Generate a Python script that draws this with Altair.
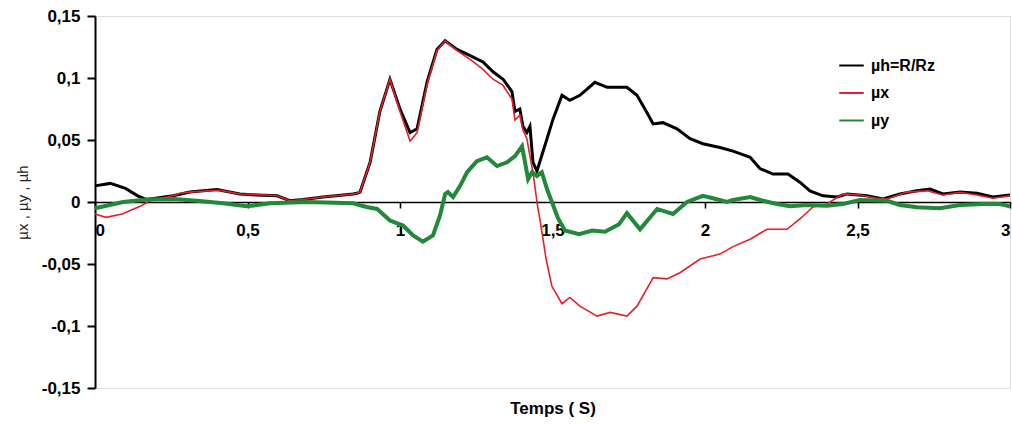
import altair as alt
import pandas as pd

# ---- data ----
mu_h_t = [0.0, 0.05, 0.10, 0.14, 0.17, 0.256, 0.311, 0.40, 0.42, 0.475, 0.53, 0.597, 0.639, 0.682,
          0.748, 0.846, 0.859, 0.869, 0.902, 0.934, 0.967, 1.0, 1.033, 1.056, 1.089, 1.121, 1.148,
          1.187, 1.23, 1.272, 1.305, 1.338, 1.367, 1.377, 1.393, 1.403, 1.416, 1.426, 1.436, 1.449,
          1.482, 1.502, 1.531, 1.557, 1.590, 1.639, 1.679, 1.744, 1.777, 1.810, 1.830, 1.862, 1.908,
          1.951, 1.993, 2.049, 2.092, 2.148, 2.180, 2.223, 2.272, 2.311, 2.344, 2.387, 2.433, 2.466,
          2.531, 2.584, 2.639, 2.695, 2.738, 2.780, 2.836, 2.892, 2.944, 3.0]
mu_h_v = [0.013, 0.015, 0.011, 0.005, 0.002, 0.005, 0.008, 0.010, 0.009, 0.0065, 0.0057, 0.005,
          0.001, 0.002, 0.004, 0.0065, 0.007, 0.008, 0.032, 0.073, 0.099, 0.075, 0.056, 0.059,
          0.097, 0.123, 0.130, 0.123, 0.118, 0.113, 0.105, 0.099, 0.089, 0.073, 0.075, 0.061,
          0.056, 0.061, 0.032, 0.025, 0.051, 0.067, 0.086, 0.082, 0.086, 0.0965, 0.0925, 0.0925,
          0.086, 0.072, 0.063, 0.064, 0.059, 0.051, 0.047, 0.044, 0.041, 0.036, 0.027, 0.0225,
          0.0225, 0.016, 0.009, 0.005, 0.004, 0.0065, 0.005, 0.0025, 0.0065, 0.009, 0.0105,
          0.0065, 0.008, 0.007, 0.004, 0.0056]

mu_x_t = [0.0, 0.036, 0.089, 0.148, 0.18, 0.256, 0.279, 0.311, 0.40, 0.42, 0.475, 0.53, 0.597,
          0.639, 0.682, 0.748, 0.846, 0.859, 0.869, 0.902, 0.934, 0.967, 1.0, 1.033, 1.056, 1.089,
          1.121, 1.148, 1.187, 1.23, 1.272, 1.305, 1.338, 1.367, 1.377, 1.393, 1.403, 1.416, 1.426,
          1.436, 1.449, 1.462, 1.479, 1.498, 1.531, 1.557, 1.590, 1.646, 1.689, 1.744, 1.777, 1.830,
          1.875, 1.918, 1.984, 2.049, 2.092, 2.148, 2.203, 2.269, 2.311, 2.354, 2.400, 2.452, 2.508,
          2.564, 2.597, 2.662, 2.728, 2.780, 2.836, 2.892, 2.944, 3.0]
mu_x_v = [-0.0097, -0.0124, -0.0097, -0.0035, 0.001, 0.005, 0.007, 0.008, 0.0095, 0.009, 0.0065,
          0.006, 0.005, 0.001, 0.002, 0.004, 0.0065, 0.007, 0.008, 0.032, 0.073, 0.099, 0.073,
          0.049, 0.056, 0.095, 0.122, 0.130, 0.122, 0.115, 0.107, 0.099, 0.094, 0.083, 0.066,
          0.070, 0.058, 0.051, 0.037, 0.024, 0.0, -0.019, -0.046, -0.068, -0.082, -0.077, -0.084,
          -0.092, -0.089, -0.092, -0.084, -0.061, -0.062, -0.057, -0.046, -0.042, -0.036, -0.030,
          -0.022, -0.022, -0.0137, -0.004, -0.0016, 0.0065, 0.0056, 0.003, 0.0024, 0.008, 0.009,
          0.0056, 0.0078, 0.0056, 0.003, 0.005]

mu_y_t = [0.0, 0.092, 0.170, 0.256, 0.334, 0.420, 0.498, 0.574, 0.695, 0.846, 0.890, 0.925, 0.967,
          1.010, 1.043, 1.075, 1.108, 1.131, 1.148, 1.157, 1.174, 1.197, 1.220, 1.252, 1.285, 1.318,
          1.351, 1.377, 1.400, 1.410, 1.420, 1.433, 1.449, 1.465, 1.482, 1.498, 1.518, 1.541, 1.587,
          1.630, 1.672, 1.718, 1.744, 1.787, 1.843, 1.895, 1.941, 1.993, 2.026, 2.072, 2.092, 2.148,
          2.190, 2.236, 2.279, 2.334, 2.400, 2.452, 2.508, 2.597, 2.639, 2.695, 2.770, 2.836, 2.911,
          2.967, 3.0]
mu_y_v = [-0.005, 0.0, 0.002, 0.0024, 0.001, -0.001, -0.0035, -0.001, 0.0, -0.001, -0.004, -0.0056,
          -0.015, -0.019, -0.027, -0.032, -0.027, -0.011, 0.0065, 0.008, 0.004, 0.013, 0.024, 0.033,
          0.036, 0.029, 0.032, 0.037, 0.045, 0.032, 0.0185, 0.024, 0.021, 0.024, 0.0105, 0.0,
          -0.013, -0.023, -0.026, -0.023, -0.024, -0.018, -0.009, -0.022, -0.0056, -0.0097, 0.0,
          0.005, 0.003, 0.0, 0.0016, 0.004, 0.001, -0.0016, -0.0035, -0.0024, -0.003, -0.0016,
          0.0016, 0.001, -0.0024, -0.0043, -0.005, -0.0024, -0.0016, -0.0016, -0.0035]

series_names = ["µh=R/Rz", "µx", "µy"]
series_colors = ["#000000", "#e3202b", "#22883a"]
x_ticks = [0, 0.5, 1, 1.5, 2, 2.5, 3]
y_ticks = [-0.15, -0.1, -0.05, 0, 0.05, 0.1, 0.15]

rows = []
for name, ts, vs in zip(series_names, [mu_h_t, mu_x_t, mu_y_t], [mu_h_v, mu_x_v, mu_y_v]):
    for i, (t, v) in enumerate(zip(ts, vs)):
        rows.append({"serie": name, "t": t, "v": v, "i": i})
df = pd.DataFrame(rows)

FONT = "Liberation Sans"

x_enc = alt.X("t:Q", scale=alt.Scale(domain=[0, 3], nice=False, zero=False),
              axis=alt.Axis(values=x_ticks, offset=-186, grid=False,
                            labelExpr="replace('' + datum.value, '.', ',')",
                            domainColor="#000", domainWidth=1.6, tickColor="#000",
                            tickWidth=1.6, tickSize=6, labelPadding=14,
                            labelFont=FONT, labelFontSize=17, labelFontWeight="bold",
                            labelColor="#000", title="Temps ( S)", titleFont=FONT,
                            titleFontSize=17, titleFontWeight="bold", titleColor="#000",
                            titleY=198, titleX=457.5, titleAlign="center"))
y_enc = alt.Y("v:Q", scale=alt.Scale(domain=[-0.15, 0.15], nice=False, zero=False),
              axis=alt.Axis(values=y_ticks, grid=False,
                            labelExpr="replace('' + datum.value, '.', ',')",
                            domainColor="#000", domainWidth=2, tickColor="#000",
                            tickWidth=2, tickSize=8, labelPadding=7,
                            labelFont=FONT, labelFontSize=17, labelFontWeight="bold",
                            labelColor="#000", title="µx , µy , µh", titleFont=FONT,
                            titleFontSize=15, titleFontWeight="normal", titleColor="#222",
                            titleAngle=-90, titleX=-73, titleY=186, titleAlign="center",
                            titleBaseline="middle"))
color_enc = alt.Color("serie:N",
                      scale=alt.Scale(domain=series_names, range=series_colors),
                      legend=alt.Legend(title=None, orient="none", legendX=743, legendY=36,
                                        symbolType="stroke", symbolSize=600,
                                        symbolStrokeWidth=2, rowPadding=5.5, labelOffset=6,
                                        labelFont=FONT, labelFontSize=16,
                                        labelFontWeight="bold", labelColor="#000"))

base = alt.Chart(df).encode(x=x_enc, y=y_enc, color=color_enc, order="i:Q")

widths = [3, 1.6, 4]
layers = [base.transform_filter(alt.datum.serie == n).mark_line(strokeWidth=w)
          for n, w in zip(series_names, widths)]

chart = alt.layer(*layers).properties(
    width=915, height=372,
    padding={"left": 95, "top": 16, "right": 2, "bottom": 40},
    autosize=alt.AutoSizeParams(type="none"),
).configure_view(stroke=None).configure(background="#ffffff")

chart.save("out.html", embed_options={"renderer": "svg", "actions": False})
